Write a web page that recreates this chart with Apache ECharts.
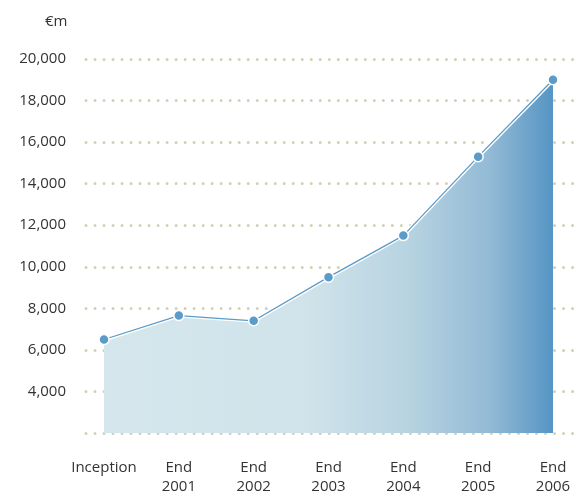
<!DOCTYPE html>
<html>
<head>
<meta charset="utf-8">
<script src="https://cdn.jsdelivr.net/npm/echarts@6/dist/echarts.min.js"></script>
<style>
  html, body { margin: 0; padding: 0; background: #fff; }
  #chart { width: 587px; height: 494px; }
</style>
</head>
<body>
<div id="chart"></div>
<script>
// Fund size (€m) from inception to end 2006
const categories = ['Inception', 'End\n2001', 'End\n2002', 'End\n2003', 'End\n2004', 'End\n2005', 'End\n2006'];
const fundValues = [6500, 7650, 7400, 9500, 11500, 15300, 19000];
const yMin = 2000;
const yMax = 20000;
const yStep = 2000;
const unitLabel = '€m';

const FONT = '"Open Sans", "Liberation Sans", sans-serif';
const gridTop = 59;
const gridBottom = 61;

const chart = echarts.init(document.getElementById('chart'), null, { renderer: 'canvas' });

chart.setOption({
  animation: false,
  backgroundColor: '#ffffff',
  title: {
    text: unitLabel,
    left: 40,
    top: 9,
    textStyle: { fontFamily: FONT, fontSize: 15, fontWeight: 'normal', color: '#333' }
  },
  grid: [
    // wide grid carrying the dotted value lines and their labels
    { left: 86, right: 10, top: gridTop, bottom: gridBottom, containLabel: false, outerBoundsMode: 'none' },
    // inner grid carrying the series
    { left: 104, right: 34, top: gridTop, bottom: gridBottom, containLabel: false, outerBoundsMode: 'none' }
  ],
  xAxis: [
    { gridIndex: 0, type: 'value', min: 0, max: 1, show: false },
    {
      gridIndex: 1,
      type: 'category',
      data: categories,
      boundaryGap: false,
      axisLine: { show: false },
      axisTick: { show: false },
      axisLabel: {
        margin: 25,
        fontFamily: FONT,
        fontSize: 15,
        lineHeight: 19,
        color: '#333',
        interval: 0
      }
    }
  ],
  yAxis: [
    {
      gridIndex: 0,
      type: 'value',
      min: yMin,
      max: yMax,
      interval: yStep,
      axisLine: { show: false },
      axisTick: { show: false },
      axisLabel: {
        margin: 20,
        fontFamily: FONT,
        fontSize: 15,
        color: '#333',
        formatter: v => (v === yMin ? '' : v.toLocaleString('en-US'))
      },
      splitLine: {
        show: true,
        lineStyle: { color: '#d3d1b5', width: 3, type: [0.01, 9], cap: 'round' }
      }
    },
    {
      gridIndex: 1,
      type: 'value',
      min: yMin,
      max: yMax,
      interval: yStep,
      show: false,
      splitLine: { show: false }
    }
  ],
  series: [
    {
      // filled area with a white outline along its top edge
      type: 'line',
      xAxisIndex: 1,
      yAxisIndex: 1,
      data: fundValues,
      symbol: 'none',
      lineStyle: { color: '#ffffff', width: 4 },
      areaStyle: {
        origin: 'start',
        opacity: 1,
        color: new echarts.graphic.LinearGradient(0, 0, 1, 0, [
          { offset: 0, color: '#d5e7ed' },
          { offset: 0.45, color: '#d0e3ea' },
          { offset: 0.68, color: '#b7d3e1' },
          { offset: 0.86, color: '#93bad5' },
          { offset: 1, color: '#5595c4' }
        ])
      },
      z: 2
    },
    {
      // thin blue line with markers
      type: 'line',
      xAxisIndex: 1,
      yAxisIndex: 1,
      data: fundValues,
      symbol: 'circle',
      symbolSize: 10,
      itemStyle: { color: '#5a9bc8', borderColor: '#ffffff', borderWidth: 1.5 },
      lineStyle: { color: '#5a9bc8', width: 1.3 },
      z: 3
    }
  ]
});
</script>
</body>
</html>
